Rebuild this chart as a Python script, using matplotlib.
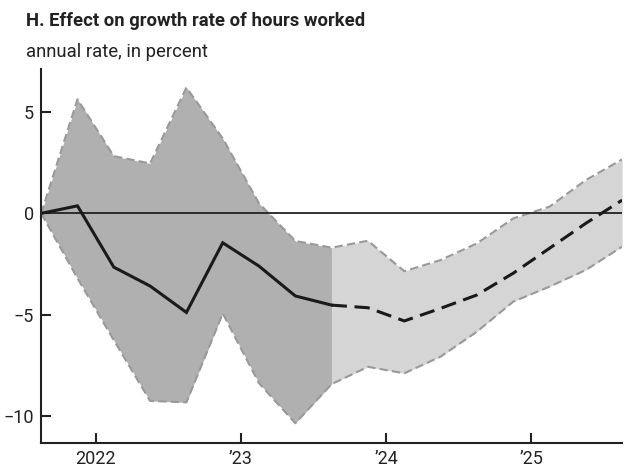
import matplotlib
matplotlib.use("Agg")
import matplotlib.pyplot as plt
import numpy as np

plt.rcParams['font.family'] = ['Roboto', 'DejaVu Sans']

# quarterly points, mid-quarter, 2021Q3 .. 2025Q3
quarters = [2021.625 + 0.25 * i for i in range(17)]
center = [0.0, 0.37, -2.65, -3.58, -4.88, -1.45, -2.6, -4.07, -4.52,
          -4.65, -5.3, -4.68, -4.02, -2.95, -1.72, -0.49, 0.65]
upper = [0.0, 5.62, 2.82, 2.46, 6.2, 3.69, 0.49, -1.36, -1.69,
         -1.35, -2.85, -2.3, -1.48, -0.25, 0.33, 1.64, 2.66]
lower = [0.0, -3.2, -6.25, -9.24, -9.31, -4.93, -8.37, -10.34, -8.41,
         -7.56, -7.88, -7.06, -5.83, -4.35, -3.61, -2.79, -1.64]
split = 8  # last observed quarter
year_ticks = [2022, 2023, 2024, 2025]
year_labels = ['2022', '\u201923', '\u201924', '\u201925']

x = np.array(quarters)
c = np.array(center)
up = np.array(upper)
lo = np.array(lower)

fig = plt.figure(figsize=(6.24, 4.71), dpi=100)
ax = fig.add_axes([0.066, 0.06, 0.931, 0.793])

ax.fill_between(x[:split + 1], lo[:split + 1], up[:split + 1], color='#b0b0b0', lw=0)
ax.fill_between(x[split:], lo[split:], up[split:], color='#d5d5d5', lw=0)
for band in (up, lo):
    ax.plot(x, band, color='#999999', lw=1.5, ls=(0, (4, 2)))

ax.axhline(0, color='#222222', lw=1.3)
ax.plot(x[:split + 1], c[:split + 1], color='#1a1a1a', lw=2.2, solid_joinstyle='miter')
ax.plot(x[split:], c[split:], color='#1a1a1a', lw=2.2, ls=(0, (5, 2.5)))

ax.set_xlim(x[0], x[-1])
ax.set_ylim(-11.3, 7.1)
ax.set_yticks([-10, -5, 0, 5])
ax.set_xticks(year_ticks)
ax.set_xticklabels(year_labels)

for s in ['top', 'right']:
    ax.spines[s].set_visible(False)
for s in ['left', 'bottom']:
    ax.spines[s].set_linewidth(1.5)
    ax.spines[s].set_color('#222222')
ax.tick_params(direction='in', length=7.5, width=1.5, color='#222222',
               labelsize=13, labelcolor='#222222', pad=5)

fig.text(0.042, 0.956, 'H. Effect on growth rate of hours worked', fontsize=13.3,
         fontweight='bold', color='#222222', va='center')
fig.text(0.042, 0.889, 'annual rate, in percent', fontsize=13.3, color='#222222', va='center')

fig.savefig('out.png', dpi=100)
